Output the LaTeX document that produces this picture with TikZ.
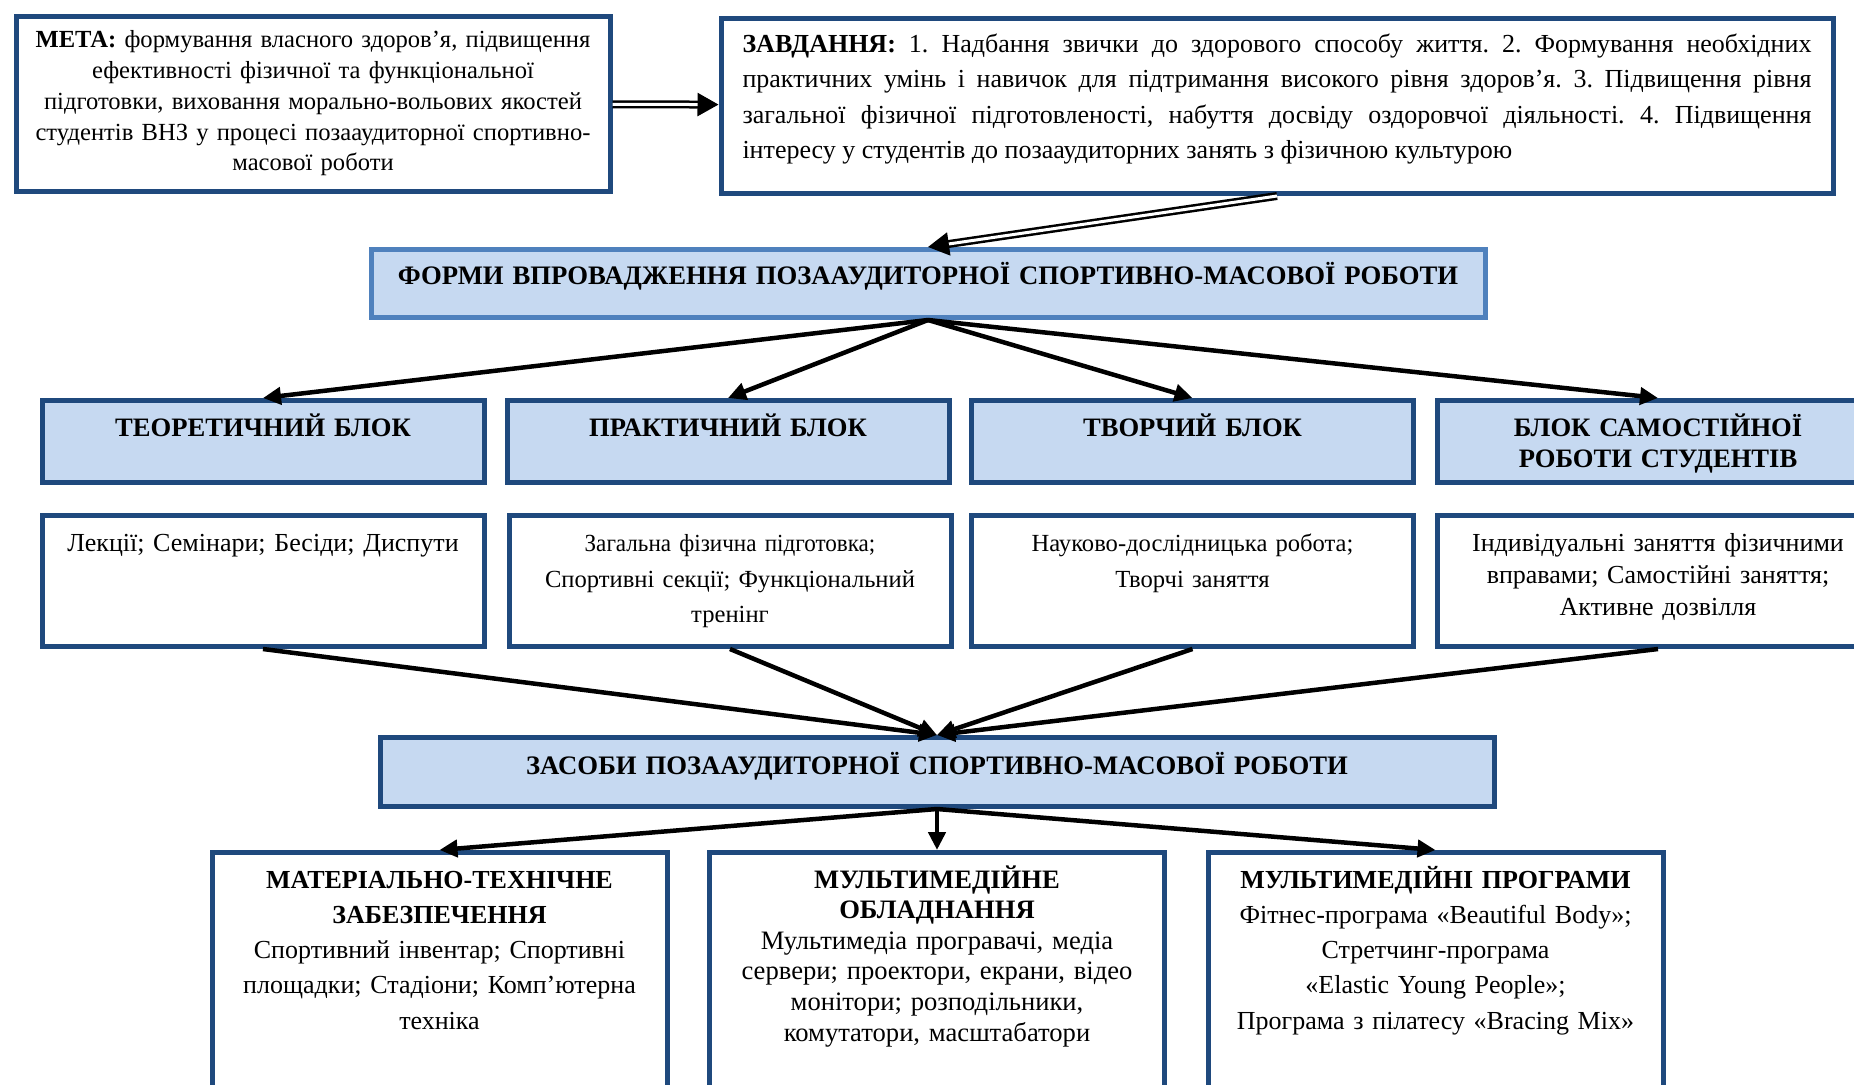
\documentclass[tikz,border=0pt]{standalone}
\usepackage{fontspec}
\setmainfont{Liberation Serif}
\usepackage{tikz}
\usetikzlibrary{arrows.meta, positioning}

\definecolor{navy}{HTML}{1F497D}
\definecolor{paleblue}{HTML}{C6D9F1}
\definecolor{midblue}{HTML}{4F81BD}
\hyphenpenalty=10000
\frenchspacing

\begin{document}
\begin{tikzpicture}[
    x=1pt, y=-1pt,
    frame/.style={draw=navy, line width=5pt, fill=white, align=center,
                  inner xsep=0pt, inner ysep=0pt, anchor=north},
    plain/.style={font=\fontsize{26}{#1}\selectfont},
    plain/.default=35.5,
    small/.style={font=\fontsize{24.6}{#1}\selectfont},
    blockhdr/.style={frame, fill=paleblue, text width=442pt,
                     text height=36pt, text depth=46pt,
                     font=\fontsize{26.6}{31}\selectfont\bfseries},
    blockbody/.style={frame, text width=442pt,
                      text height=36pt, text depth=95pt},
    meansbox/.style={frame, text width=455pt,
                     text height=35.5pt, text depth=225pt},
    banner/.style={frame, fill=paleblue, text width=1114pt,
                   font=\fontsize{26.7}{31}\selectfont\bfseries},
    arr/.style={-{Triangle[length=18pt, width=17pt]}, line width=4.5pt},
    dbl/.style={double, double distance=3pt, line width=2.5pt,
                -{Triangle[length=21pt, width=23pt]}}
  ]
  \useasboundingbox (0,0) rectangle (1854,1084);
  \clip (0,0) rectangle (1854,1084);

  % goal and tasks
  \node[frame, anchor=center, text width=594pt, minimum height=175pt,
        small=30.75] (goal) at (313,103.5)
    {\textbf{МЕТА:} формування власного здоров’я, підвищення\\
     ефективності фізичної та функціональної\\
     підготовки, виховання морально-вольових якостей\\
     студентів ВНЗ у процесі позааудиторної спортивно-\\
     масової роботи};
  \node[frame, align=justify, inner xsep=21.5pt, text width=1069pt,
        text height=33.5pt, text depth=141.5pt, plain] (task) at (1277,16)
    {\textbf{ЗАВДАННЯ:} 1. Надбання звички до здорового способу життя. 2. Формування необхідних\linebreak
     практичних умінь і навичок для підтримання високого рівня здоров’я. 3. Підвищення рівня\linebreak
     загальної фізичної підготовленості, набуття досвіду оздоровчої діяльності. 4. Підвищення\linebreak
     інтересу у студентів до позааудиторних занять з фізичною культурою};

  \node[banner, draw=midblue, text height=35pt, text depth=33pt] (forms)
    at (928,247) {ФОРМИ ВПРОВАДЖЕННЯ ПОЗААУДИТОРНОЇ СПОРТИВНО-МАСОВОЇ РОБОТИ};

  % blocks
  \node[blockhdr] (theory) at (263,398) {ТЕОРЕТИЧНИЙ БЛОК};
  \node[blockhdr] (practice) at (728,398) {ПРАКТИЧНИЙ БЛОК};
  \node[blockhdr] (creative) at (1192.5,398) {ТВОРЧИЙ БЛОК};
  \node[blockhdr] (selfwork) at (1658,398) {БЛОК САМОСТІЙНОЇ\\РОБОТИ СТУДЕНТІВ};

  \node[blockbody, plain] (theoryb) at (263,513)
    {Лекції; Семінари; Бесіди; Диспути};
  \node[blockbody, small=35.5] (practiceb) at (730,513)
    {{\addfontfeature{FakeStretch=0.94}Загальна фізична підготовка;}\\
     Спортивні секції; Функціональний\\тренінг};
  \node[blockbody, small=35.5] (creativeb) at (1192.5,513)
    {Науково-дослідницька робота;\\Творчі заняття};
  \node[blockbody, plain=32] (selfworkb) at (1658,513)
    {Індивідуальні заняття фізичними\\вправами; Самостійні заняття;\\Активне дозвілля};

  \node[banner, text height=37pt, text depth=32pt] (means)
    at (937,735) {ЗАСОБИ ПОЗААУДИТОРНОЇ СПОРТИВНО-МАСОВОЇ РОБОТИ};

  % means
  \node[meansbox, plain=35.3] (tech) at (439.5,850)
    {\textbf{МАТЕРІАЛЬНО-ТЕХНІЧНЕ}\\\textbf{ЗАБЕЗПЕЧЕННЯ}\\
     Спортивний інвентар; Спортивні\\площадки; Стадіони; Комп’ютерна\\техніка};
  \node[meansbox, font=\fontsize{26.6}{30.6}\selectfont] (media) at (937,850)
    {\textbf{МУЛЬТИМЕДІЙНЕ}\\\textbf{ОБЛАДНАННЯ}\\
     Мультимедіа програвачі, медіа\\сервери; проектори, екрани, відео\\
     монітори; розподільники,\\комутатори, масштабатори};
  \node[meansbox, plain=35.3] (progs) at (1435.5,850)
    {\textbf{МУЛЬТИМЕДІЙНІ ПРОГРАМИ}\\Фітнес-програма «Beautiful Body»;\\
     Стретчинг-програма\\«Elastic Young People»;\\
     Програма з пілатесу «Bracing Mix»};

  \draw[dbl] (goal) -- (task);
  \draw[dbl] (task.south) -- (forms.north);

  \foreach \b in {theory, practice, creative, selfwork}
    \draw[arr] (forms.south) -- (\b.north);
  \foreach \b in {theoryb, practiceb, creativeb, selfworkb}
    \draw[arr] (\b.south) -- (means.north);
  \foreach \b in {tech, media, progs}
    \draw[arr] (means.south) -- (\b.north);
\end{tikzpicture}
\end{document}
